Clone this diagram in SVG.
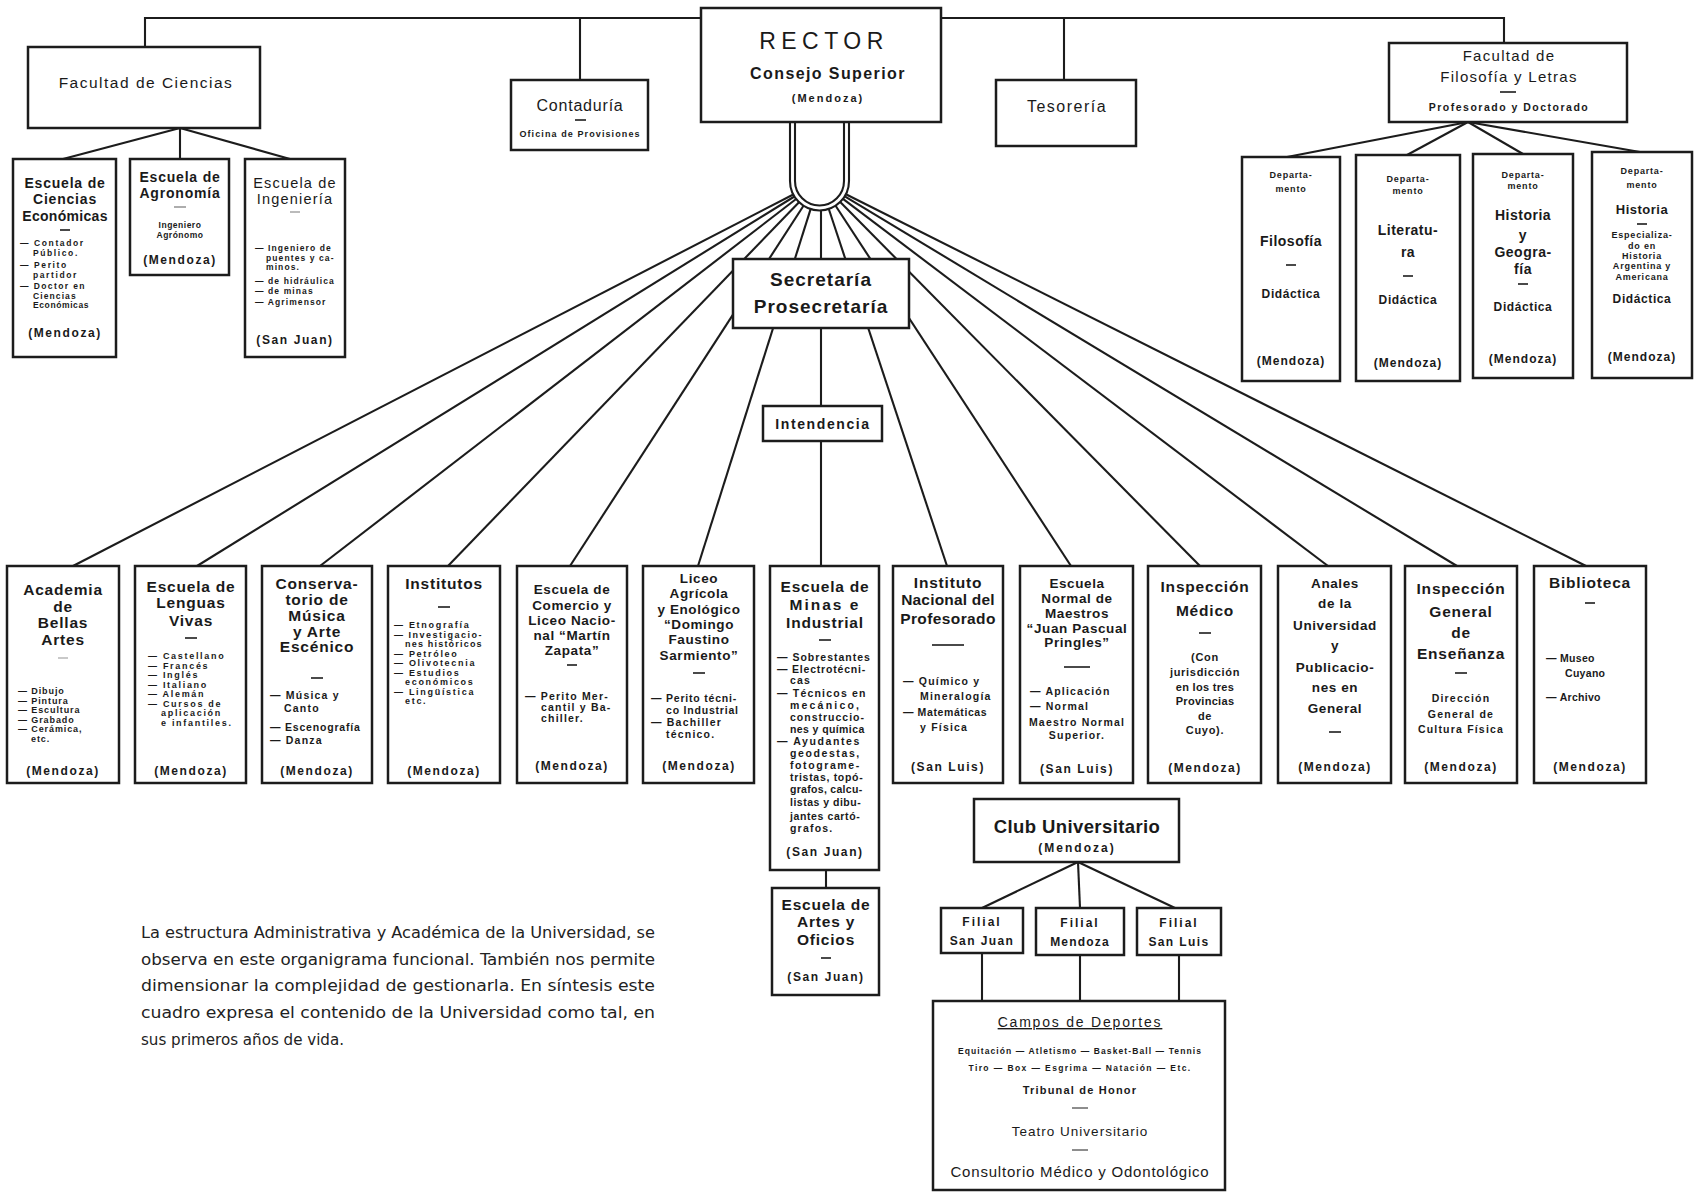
<svg xmlns="http://www.w3.org/2000/svg" width="1696" height="1192" viewBox="0 0 1696 1192">
<style>
.bx{fill:#fff;stroke:#1c1c1c;stroke-width:2.5}
.cn{stroke:#1c1c1c;stroke-width:2.1;fill:none}
.ds{stroke:#1c1c1c;stroke-width:1.6}
text{font-family:"Liberation Sans",Arial,sans-serif;fill:#1a1a1a}
.ti{font-size:15.5px;font-weight:bold;text-anchor:middle;letter-spacing:0.8px}
.ts{font-size:13.5px;font-weight:bold;text-anchor:middle;letter-spacing:0.6px}
.it{font-size:10.5px;font-weight:bold;letter-spacing:1.2px}
.ix{font-size:9px;font-weight:bold;letter-spacing:1.7px}
.ic{font-size:10.5px;font-weight:bold;letter-spacing:1.2px;text-anchor:middle}
.md{font-size:12px;font-weight:bold;text-anchor:middle;letter-spacing:1.6px}
.tt{font-size:15.5px;text-anchor:middle;letter-spacing:1.5px}
.dp{font-size:9px;font-weight:bold;text-anchor:middle;letter-spacing:0.8px}
.dt{font-size:14px;font-weight:bold;text-anchor:middle;letter-spacing:0.5px}
.dd{font-size:12px;font-weight:bold;text-anchor:middle;letter-spacing:0.6px}
.par{font-family:"Liberation Sans Narrow","DejaVu Sans Condensed","Liberation Sans",sans-serif;font-size:16px;fill:#222}
</style>
<rect x="0" y="0" width="1696" height="1192" fill="#fff"/>

<g id="connectors">
  <polyline class="cn" points="145,47 145,18 1504,18 1504,43"/>
  <line class="cn" x1="580" y1="18" x2="580" y2="80"/>
  <line class="cn" x1="1064" y1="18" x2="1064" y2="80"/>
  <line class="cn" x1="180" y1="128" x2="63" y2="159"/>
  <line class="cn" x1="180" y1="128" x2="180" y2="159"/>
  <line class="cn" x1="180" y1="128" x2="290" y2="159"/>
  <line class="cn" x1="1468" y1="122" x2="1287" y2="157"/>
  <line class="cn" x1="1468" y1="122" x2="1407" y2="155"/>
  <line class="cn" x1="1468" y1="122" x2="1523" y2="154"/>
  <line class="cn" x1="1468" y1="122" x2="1640" y2="152"/>
  <line class="cn" x1="793.3" y1="194.5" x2="73" y2="566"/>
  <line class="cn" x1="794.4" y1="196.5" x2="197" y2="566"/>
  <line class="cn" x1="796.1" y1="199" x2="320" y2="566"/>
  <line class="cn" x1="799" y1="202.2" x2="448" y2="566"/>
  <line class="cn" x1="803.5" y1="205.8" x2="570" y2="566"/>
  <line class="cn" x1="810.6" y1="209.1" x2="698" y2="566"/>
  <line class="cn" x1="821" y1="210" x2="821" y2="566"/>
  <line class="cn" x1="828.8" y1="209" x2="947" y2="566"/>
  <line class="cn" x1="835.6" y1="205.7" x2="1071" y2="566"/>
  <line class="cn" x1="840.2" y1="202" x2="1200" y2="566"/>
  <line class="cn" x1="843" y1="198.8" x2="1328" y2="566"/>
  <line class="cn" x1="844.8" y1="196.3" x2="1457" y2="566"/>
  <line class="cn" x1="845.9" y1="194.2" x2="1586" y2="566"/>
  <path class="cn" d="M790 122 V181 A29.5 29.5 0 0 0 849 181 V122" fill="#fff"/>
  <path class="cn" d="M795 122 V181 A24.5 24.5 0 0 0 844 181 V122"/>
  <line class="cn" x1="826" y1="870" x2="826" y2="888"/>
  <line class="cn" x1="1078" y1="862" x2="982" y2="908"/>
  <line class="cn" x1="1078" y1="862" x2="1080" y2="908"/>
  <line class="cn" x1="1078" y1="862" x2="1175" y2="908"/>
  <line class="cn" x1="982" y1="953" x2="982" y2="1001"/>
  <line class="cn" x1="1080" y1="955" x2="1080" y2="1001"/>
  <line class="cn" x1="1179" y1="955" x2="1179" y2="1001"/>
</g>

<g id="rector">
  <rect class="bx" x="701" y="8" width="240" height="114"/>
  <text x="824" y="49" style="font-size:23px;letter-spacing:5.5px;text-anchor:middle">RECTOR</text>
  <text x="828" y="79" style="font-size:16px;font-weight:bold;letter-spacing:1.4px;text-anchor:middle">Consejo Superior</text>
  <text class="md" x="828" y="102" style="font-size:11px;letter-spacing:2px">(Mendoza)</text>
</g>

<g id="fac-ciencias">
  <rect class="bx" x="28" y="47" width="232" height="81"/>
  <text class="tt" x="146" y="88">Facultad de Ciencias</text>
</g>

<g id="contaduria">
  <rect class="bx" x="511" y="80" width="137" height="70"/>
  <text class="tt" x="580" y="111" style="font-size:16px;letter-spacing:0.8px">Contaduría</text>
  <line class="ds" x1="575" y1="120" x2="586" y2="120"/>
  <text x="580" y="137" style="font-size:9px;font-weight:bold;letter-spacing:1.1px;text-anchor:middle">Oficina de Provisiones</text>
</g>

<g id="tesoreria">
  <rect class="bx" x="996" y="80" width="140" height="66"/>
  <text class="tt" x="1067" y="112" style="font-size:16px">Tesorería</text>
</g>

<g id="fac-filosofia">
  <rect class="bx" x="1389" y="43" width="238" height="79"/>
  <text class="tt" x="1509" y="61" style="font-size:15px;letter-spacing:1.3px">Facultad de</text>
  <text class="tt" x="1509" y="82" style="font-size:15px;letter-spacing:1.3px">Filosofía y Letras</text>
  <line class="ds" x1="1500" y1="92" x2="1516" y2="92"/>
  <text x="1509" y="111" style="font-size:10.5px;font-weight:bold;letter-spacing:1.5px;text-anchor:middle">Profesorado y Doctorado</text>
</g>

<g id="esc-ciencias-economicas">
  <rect class="bx" x="13" y="159" width="103" height="198"/>
  <text class="ti" x="65" y="188" style="font-size:14px">Escuela de</text>
  <text class="ti" x="65" y="204" style="font-size:14px">Ciencias</text>
  <text class="ti" x="65" y="221" style="font-size:14px;letter-spacing:0.3px">Económicas</text>
  <line class="ds" x1="60" y1="230" x2="70" y2="230"/>
  <text class="ix" x="20" y="246" style="font-size:8.5px;letter-spacing:1.6px">— Contador</text>
  <text class="ix" x="33" y="255.5" style="font-size:8.5px;letter-spacing:1.6px">Público.</text>
  <text class="ix" x="20" y="268" style="font-size:8.5px;letter-spacing:1.6px">— Perito</text>
  <text class="ix" x="33" y="277.5" style="font-size:8.5px;letter-spacing:1.6px">partidor</text>
  <text class="ix" x="20" y="289" style="font-size:8.5px;letter-spacing:1.4px">— Doctor en</text>
  <text class="ix" x="33" y="298.5" style="font-size:8.5px;letter-spacing:1.1px">Ciencias</text>
  <text class="ix" x="33" y="308" style="font-size:8.5px;letter-spacing:0.6px">Económicas</text>
  <text class="md" x="65" y="337">(Mendoza)</text>
</g>

<g id="esc-agronomia">
  <rect class="bx" x="130" y="159" width="99" height="116"/>
  <text class="ti" x="180" y="182" style="font-size:14px">Escuela de</text>
  <text class="ti" x="180" y="198" style="font-size:14px">Agronomía</text>
  <line class="ds" x1="174" y1="207" x2="186" y2="207" style="stroke:#999"/>
  <text x="180" y="228" style="font-size:8.5px;font-weight:bold;letter-spacing:0.5px;text-anchor:middle">Ingeniero</text>
  <text x="180" y="238" style="font-size:8.5px;font-weight:bold;letter-spacing:0.5px;text-anchor:middle">Agrónomo</text>
  <text class="md" x="180" y="264">(Mendoza)</text>
</g>

<g id="esc-ingenieria">
  <rect class="bx" x="245" y="159" width="100" height="198"/>
  <text class="ti" x="295" y="188" style="font-size:14.5px;font-weight:normal;letter-spacing:1.2px">Escuela de</text>
  <text class="ti" x="295" y="204" style="font-size:14.5px;font-weight:normal;letter-spacing:1.2px">Ingeniería</text>
  <line class="ds" x1="290" y1="212" x2="300" y2="212" style="stroke:#aaa"/>
  <text class="it" x="255" y="251" style="font-size:8.5px;letter-spacing:1.1px">— Ingeniero de</text>
  <text class="it" x="266" y="260.5" style="font-size:8.5px;letter-spacing:1.1px">puentes y ca-</text>
  <text class="it" x="266" y="270" style="font-size:8.5px;letter-spacing:1.1px">minos.</text>
  <text class="it" x="255" y="284" style="font-size:8.5px;letter-spacing:1.1px">— de hidráulica</text>
  <text class="it" x="255" y="294" style="font-size:8.5px;letter-spacing:1.1px">— de minas</text>
  <text class="it" x="255" y="304.5" style="font-size:8.5px;letter-spacing:1.1px">— Agrimensor</text>
  <text class="md" x="295" y="344">(San Juan)</text>
</g>

<g id="dep-filosofia">
  <rect class="bx" x="1242" y="157" width="98" height="224"/>
  <text class="dp" x="1291" y="178">Departa-</text>
  <text class="dp" x="1291" y="192">mento</text>
  <text class="dt" x="1291" y="246">Filosofía</text>
  <line class="ds" x1="1286" y1="265" x2="1296" y2="265"/>
  <text class="dd" x="1291" y="298">Didáctica</text>
  <text class="md" x="1291" y="365" style="letter-spacing:1px">(Mendoza)</text>
</g>

<g id="dep-literatura">
  <rect class="bx" x="1356" y="155" width="104" height="226"/>
  <text class="dp" x="1408" y="182">Departa-</text>
  <text class="dp" x="1408" y="194">mento</text>
  <text class="dt" x="1408" y="235">Literatu-</text>
  <text class="dt" x="1408" y="257">ra</text>
  <line class="ds" x1="1403" y1="276" x2="1413" y2="276"/>
  <text class="dd" x="1408" y="304">Didáctica</text>
  <text class="md" x="1408" y="367" style="letter-spacing:1px">(Mendoza)</text>
</g>

<g id="dep-historia-geografia">
  <rect class="bx" x="1473" y="154" width="100" height="224"/>
  <text class="dp" x="1523" y="178">Departa-</text>
  <text class="dp" x="1523" y="189">mento</text>
  <text class="dt" x="1523" y="220">Historia</text>
  <text class="dt" x="1523" y="240">y</text>
  <text class="dt" x="1523" y="257">Geogra-</text>
  <text class="dt" x="1523" y="274">fía</text>
  <line class="ds" x1="1518" y1="284" x2="1528" y2="284"/>
  <text class="dd" x="1523" y="311">Didáctica</text>
  <text class="md" x="1523" y="363" style="letter-spacing:1px">(Mendoza)</text>
</g>

<g id="dep-historia">
  <rect class="bx" x="1592" y="152" width="100" height="226"/>
  <text class="dp" x="1642" y="174">Departa-</text>
  <text class="dp" x="1642" y="188">mento</text>
  <text class="dt" x="1642" y="214" style="font-size:13px">Historia</text>
  <line class="ds" x1="1637" y1="224" x2="1647" y2="224"/>
  <text class="dp" x="1642" y="238">Especializa-</text>
  <text class="dp" x="1642" y="249">do en</text>
  <text class="dp" x="1642" y="259">Historia</text>
  <text class="dp" x="1642" y="269">Argentina y</text>
  <text class="dp" x="1642" y="280">Americana</text>
  <text class="dd" x="1642" y="303">Didáctica</text>
  <text class="md" x="1642" y="361" style="letter-spacing:1px">(Mendoza)</text>
</g>

<g id="secretaria">
  <rect class="bx" x="733" y="259" width="176" height="69"/>
  <text x="821" y="286" style="font-size:19px;font-weight:bold;letter-spacing:1px;text-anchor:middle">Secretaría</text>
  <text x="821" y="313" style="font-size:19px;font-weight:bold;letter-spacing:1px;text-anchor:middle">Prosecretaría</text>
</g>

<g id="intendencia">
  <rect class="bx" x="763" y="406" width="119" height="35"/>
  <text x="823" y="429" style="font-size:14px;font-weight:bold;letter-spacing:1.6px;text-anchor:middle">Intendencia</text>
</g>

<g id="academia-bellas-artes">
  <rect class="bx" x="7" y="566" width="112" height="217"/>
  <text class="ti" x="63" y="595">Academia</text>
  <text class="ti" x="63" y="612">de</text>
  <text class="ti" x="63" y="628">Bellas</text>
  <text class="ti" x="63" y="645">Artes</text>
  <line class="ds" x1="58" y1="658" x2="68" y2="658" style="stroke:#bbb"/>
  <text class="ix" x="18" y="694" style="letter-spacing:0.9px">— Dibujo</text>
  <text class="ix" x="18" y="703.5" style="letter-spacing:0.9px">— Pintura</text>
  <text class="ix" x="18" y="713" style="letter-spacing:0.9px">— Escultura</text>
  <text class="ix" x="18" y="722.5" style="letter-spacing:0.9px">— Grabado</text>
  <text class="ix" x="18" y="732" style="letter-spacing:0.9px">— Cerámica,</text>
  <text class="ix" x="31" y="741.5" style="letter-spacing:0.9px">etc.</text>
  <text class="md" x="63" y="775">(Mendoza)</text>
</g>

<g id="lenguas-vivas">
  <rect class="bx" x="135" y="566" width="111" height="217"/>
  <text class="ti" x="191" y="592">Escuela de</text>
  <text class="ti" x="191" y="608">Lenguas</text>
  <text class="ti" x="191" y="626">Vivas</text>
  <line class="ds" x1="185" y1="638" x2="197" y2="638"/>
  <text class="ix" x="148" y="659">— Castellano</text>
  <text class="ix" x="148" y="668.5">— Francés</text>
  <text class="ix" x="148" y="678">— Inglés</text>
  <text class="ix" x="148" y="687.5">— Italiano</text>
  <text class="ix" x="148" y="697">— Alemán</text>
  <text class="ix" x="148" y="706.5">— Cursos de</text>
  <text class="ix" x="161" y="716">aplicación</text>
  <text class="ix" x="161" y="725.5">e infantiles.</text>
  <text class="md" x="191" y="775">(Mendoza)</text>
</g>

<g id="conservatorio">
  <rect class="bx" x="262" y="566" width="110" height="217"/>
  <text class="ti" x="317" y="589">Conserva-</text>
  <text class="ti" x="317" y="605">torio de</text>
  <text class="ti" x="317" y="621">Música</text>
  <text class="ti" x="317" y="637">y Arte</text>
  <text class="ti" x="317" y="652">Escénico</text>
  <line class="ds" x1="311" y1="678" x2="323" y2="678"/>
  <text class="it" x="270" y="699">— Música y</text>
  <text class="it" x="284" y="712">Canto</text>
  <text class="it" x="270" y="731" style="letter-spacing:0.8px">— Escenografía</text>
  <text class="it" x="270" y="744">— Danza</text>
  <text class="md" x="317" y="775">(Mendoza)</text>
</g>

<g id="institutos">
  <rect class="bx" x="388" y="566" width="112" height="217"/>
  <text class="ti" x="444" y="589">Institutos</text>
  <line class="ds" x1="438" y1="607" x2="450" y2="607"/>
  <text class="ix" x="394" y="628">— Etnografía</text>
  <text class="ix" x="394" y="637.5" style="letter-spacing:1.5px">— Investigacio-</text>
  <text class="ix" x="405" y="647" style="letter-spacing:1.2px">nes históricos</text>
  <text class="ix" x="394" y="656.5">— Petróleo</text>
  <text class="ix" x="394" y="666">— Olivotecnia</text>
  <text class="ix" x="394" y="675.5">— Estudios</text>
  <text class="ix" x="405" y="685">económicos</text>
  <text class="ix" x="394" y="694.5">— Lingüística</text>
  <text class="ix" x="405" y="704">etc.</text>
  <text class="md" x="444" y="775">(Mendoza)</text>
</g>

<g id="escuela-comercio">
  <rect class="bx" x="517" y="566" width="110" height="217"/>
  <text class="ts" x="572" y="594">Escuela de</text>
  <text class="ts" x="572" y="610">Comercio y</text>
  <text class="ts" x="572" y="625">Liceo Nacio-</text>
  <text class="ts" x="572" y="640">nal “Martín</text>
  <text class="ts" x="572" y="655">Zapata”</text>
  <line class="ds" x1="567" y1="665" x2="577" y2="665"/>
  <text class="it" x="525" y="700">— Perito Mer-</text>
  <text class="it" x="541" y="711">cantil y Ba-</text>
  <text class="it" x="541" y="722">chiller.</text>
  <text class="md" x="572" y="770">(Mendoza)</text>
</g>

<g id="liceo-agricola">
  <rect class="bx" x="643" y="566" width="111" height="217"/>
  <text class="ts" x="699" y="583">Liceo</text>
  <text class="ts" x="699" y="598">Agrícola</text>
  <text class="ts" x="699" y="614">y Enológico</text>
  <text class="ts" x="699" y="629">“Domingo</text>
  <text class="ts" x="699" y="644">Faustino</text>
  <text class="ts" x="699" y="660">Sarmiento”</text>
  <line class="ds" x1="693" y1="673" x2="705" y2="673"/>
  <text class="it" x="651" y="702" style="letter-spacing:0.8px">— Perito técni-</text>
  <text class="it" x="666" y="714" style="letter-spacing:0.8px">co Industrial</text>
  <text class="it" x="651" y="726">— Bachiller</text>
  <text class="it" x="666" y="738">técnico.</text>
  <text class="md" x="699" y="770">(Mendoza)</text>
</g>

<g id="escuela-minas">
  <rect class="bx" x="770" y="566" width="109" height="304"/>
  <text class="ti" x="825" y="592">Escuela de</text>
  <text class="ti" x="825" y="610" style="letter-spacing:2px">Minas e</text>
  <text class="ti" x="825" y="628">Industrial</text>
  <line class="ds" x1="819" y1="640" x2="831" y2="640"/>
  <text class="it" x="777" y="661" style="letter-spacing:1px">— Sobrestantes</text>
  <text class="it" x="777" y="672.5" style="letter-spacing:0.8px">— Electrotécni-</text>
  <text class="it" x="790" y="684">cas</text>
  <text class="it" x="777" y="697">— Técnicos en</text>
  <text class="it" x="790" y="709" style="letter-spacing:2.2px">mecánico,</text>
  <text class="it" x="790" y="721" style="letter-spacing:1px">construccio-</text>
  <text class="it" x="790" y="732.5" style="letter-spacing:0.4px">nes y química</text>
  <text class="it" x="777" y="745" style="letter-spacing:1.6px">— Ayudantes</text>
  <text class="it" x="790" y="757" style="letter-spacing:1.6px">geodestas,</text>
  <text class="it" x="790" y="768.5" style="letter-spacing:1.6px">fotograme-</text>
  <text class="it" x="790" y="781" style="letter-spacing:0.7px">tristas, topó-</text>
  <text class="it" x="790" y="793" style="letter-spacing:0.3px">grafos, calcu-</text>
  <text class="it" x="790" y="806" style="letter-spacing:0.5px">listas y dibu-</text>
  <text class="it" x="790" y="820" style="letter-spacing:0.6px">jantes cartó-</text>
  <text class="it" x="790" y="832">grafos.</text>
  <text class="md" x="825" y="856">(San Juan)</text>
</g>

<g id="artes-oficios">
  <rect class="bx" x="772" y="888" width="107" height="107"/>
  <text class="ti" x="826" y="910">Escuela de</text>
  <text class="ti" x="826" y="927">Artes y</text>
  <text class="ti" x="826" y="945">Oficios</text>
  <line class="ds" x1="821" y1="958" x2="831" y2="958"/>
  <text class="md" x="826" y="981">(San Juan)</text>
</g>

<g id="instituto-profesorado">
  <rect class="bx" x="893" y="566" width="110" height="217"/>
  <text class="ti" x="948" y="588">Instituto</text>
  <text class="ti" x="948" y="605" style="letter-spacing:0.2px">Nacional del</text>
  <text class="ti" x="948" y="624" style="letter-spacing:0.4px">Profesorado</text>
  <line class="ds" x1="932" y1="645" x2="964" y2="645"/>
  <text class="it" x="903" y="685">— Químico y</text>
  <text class="it" x="920" y="700">Mineralogía</text>
  <text class="it" x="903" y="716" style="letter-spacing:0.6px">— Matemáticas</text>
  <text class="it" x="920" y="731">y Física</text>
  <text class="md" x="948" y="771">(San Luis)</text>
</g>

<g id="escuela-normal">
  <rect class="bx" x="1020" y="566" width="113" height="217"/>
  <text class="ts" x="1077" y="588">Escuela</text>
  <text class="ts" x="1077" y="603">Normal de</text>
  <text class="ts" x="1077" y="618">Maestros</text>
  <text class="ts" x="1077" y="633">“Juan Pascual</text>
  <text class="ts" x="1077" y="647">Pringles”</text>
  <line class="ds" x1="1064" y1="667" x2="1090" y2="667"/>
  <text class="it" x="1030" y="695">— Aplicación</text>
  <text class="it" x="1030" y="710">— Normal</text>
  <text class="ic" x="1077" y="726">Maestro Normal</text>
  <text class="ic" x="1077" y="739">Superior.</text>
  <text class="md" x="1077" y="773">(San Luis)</text>
</g>

<g id="inspeccion-medico">
  <rect class="bx" x="1148" y="566" width="113" height="217"/>
  <text class="ti" x="1205" y="592">Inspección</text>
  <text class="ti" x="1205" y="616">Médico</text>
  <line class="ds" x1="1199" y1="633" x2="1211" y2="633"/>
  <text class="ic" x="1205" y="661" style="font-size:11px;letter-spacing:0.7px">(Con</text>
  <text class="ic" x="1205" y="676" style="font-size:11px;letter-spacing:0.7px">jurisdicción</text>
  <text class="ic" x="1205" y="691" style="font-size:11px;letter-spacing:0.3px">en los tres</text>
  <text class="ic" x="1205" y="705" style="font-size:11px;letter-spacing:0.3px">Provincias</text>
  <text class="ic" x="1205" y="720" style="font-size:11px;letter-spacing:0.7px">de</text>
  <text class="ic" x="1205" y="734" style="font-size:11px;letter-spacing:0.7px">Cuyo).</text>
  <text class="md" x="1205" y="772">(Mendoza)</text>
</g>

<g id="anales">
  <rect class="bx" x="1278" y="566" width="113" height="217"/>
  <text class="ti" x="1335" y="588" style="font-size:13.5px;letter-spacing:0.6px">Anales</text>
  <text class="ti" x="1335" y="608" style="font-size:13.5px;letter-spacing:0.6px">de la</text>
  <text class="ti" x="1335" y="630" style="font-size:13.5px;letter-spacing:0.6px">Universidad</text>
  <text class="ti" x="1335" y="650" style="font-size:13.5px;letter-spacing:0.6px">y</text>
  <text class="ti" x="1335" y="672" style="font-size:13.5px;letter-spacing:0.6px">Publicacio-</text>
  <text class="ti" x="1335" y="692" style="font-size:13.5px;letter-spacing:0.6px">nes en</text>
  <text class="ti" x="1335" y="713" style="font-size:13.5px;letter-spacing:0.6px">General</text>
  <line class="ds" x1="1329" y1="732" x2="1341" y2="732"/>
  <text class="md" x="1335" y="771">(Mendoza)</text>
</g>

<g id="inspeccion-general">
  <rect class="bx" x="1405" y="566" width="112" height="217"/>
  <text class="ti" x="1461" y="594">Inspección</text>
  <text class="ti" x="1461" y="617">General</text>
  <text class="ti" x="1461" y="638">de</text>
  <text class="ti" x="1461" y="659">Enseñanza</text>
  <line class="ds" x1="1455" y1="673" x2="1467" y2="673"/>
  <text class="ic" x="1461" y="702">Dirección</text>
  <text class="ic" x="1461" y="718">General de</text>
  <text class="ic" x="1461" y="733">Cultura Física</text>
  <text class="md" x="1461" y="771">(Mendoza)</text>
</g>

<g id="biblioteca">
  <rect class="bx" x="1534" y="566" width="112" height="217"/>
  <text class="ti" x="1590" y="588">Biblioteca</text>
  <line class="ds" x1="1585" y1="603" x2="1595" y2="603"/>
  <text class="it" x="1546" y="662" style="letter-spacing:0.3px">— Museo</text>
  <text class="it" x="1565" y="677" style="letter-spacing:0.3px">Cuyano</text>
  <text class="it" x="1546" y="701" style="letter-spacing:0.3px">— Archivo</text>
  <text class="md" x="1590" y="771">(Mendoza)</text>
</g>

<g id="club-universitario">
  <rect class="bx" x="974" y="799" width="205" height="63"/>
  <text x="1077" y="833" style="font-size:18.5px;font-weight:bold;letter-spacing:0.4px;text-anchor:middle">Club Universitario</text>
  <text class="md" x="1077" y="852" style="letter-spacing:2px">(Mendoza)</text>
</g>

<g id="filial-san-juan">
  <rect class="bx" x="941" y="908" width="82" height="45"/>
  <text x="982" y="926" style="font-size:12px;font-weight:bold;text-anchor:middle;letter-spacing:2px">Filial</text>
  <text x="982" y="945" style="font-size:12px;font-weight:bold;text-anchor:middle;letter-spacing:1.4px">San Juan</text>
</g>

<g id="filial-mendoza">
  <rect class="bx" x="1036" y="908" width="88" height="47"/>
  <text x="1080" y="927" style="font-size:12px;font-weight:bold;text-anchor:middle;letter-spacing:2px">Filial</text>
  <text x="1080" y="946" style="font-size:12px;font-weight:bold;text-anchor:middle;letter-spacing:1.2px">Mendoza</text>
</g>

<g id="filial-san-luis">
  <rect class="bx" x="1137" y="908" width="84" height="47"/>
  <text x="1179" y="927" style="font-size:12px;font-weight:bold;text-anchor:middle;letter-spacing:2px">Filial</text>
  <text x="1179" y="946" style="font-size:12px;font-weight:bold;text-anchor:middle;letter-spacing:1.4px">San Luis</text>
</g>

<g id="campos-deportes">
  <rect class="bx" x="933" y="1001" width="292" height="189"/>
  <text x="1080" y="1027" style="font-size:14px;text-anchor:middle;letter-spacing:1.8px;text-decoration:underline">Campos de Deportes</text>
  <text x="1080" y="1054" style="font-size:8.5px;font-weight:bold;text-anchor:middle;letter-spacing:1.1px">Equitación — Atletismo — Basket-Ball — Tennis</text>
  <text x="1080" y="1071" style="font-size:8.5px;font-weight:bold;text-anchor:middle;letter-spacing:1.4px">Tiro — Box — Esgrima — Natación — Etc.</text>
  <text x="1080" y="1094" style="font-size:11px;font-weight:bold;text-anchor:middle;letter-spacing:1.2px">Tribunal de Honor</text>
  <line class="ds" x1="1072" y1="1108" x2="1088" y2="1108" style="stroke-width:1"/>
  <text x="1080" y="1136" style="font-size:13.5px;text-anchor:middle;letter-spacing:1px">Teatro Universitario</text>
  <line class="ds" x1="1072" y1="1150" x2="1088" y2="1150" style="stroke-width:1"/>
  <text x="1080" y="1177" style="font-size:15px;text-anchor:middle;letter-spacing:0.8px">Consultorio Médico y Odontológico</text>
</g>

<g id="texto">
  <text class="par" x="141" y="938" textLength="514" lengthAdjust="spacingAndGlyphs">La estructura Administrativa y Académica de la Universidad, se</text>
  <text class="par" x="141" y="965" textLength="514" lengthAdjust="spacingAndGlyphs">observa en este organigrama funcional. También nos permite</text>
  <text class="par" x="141" y="991" textLength="514" lengthAdjust="spacingAndGlyphs">dimensionar la complejidad de gestionarla. En síntesis este</text>
  <text class="par" x="141" y="1018" textLength="514" lengthAdjust="spacingAndGlyphs">cuadro expresa el contenido de la Universidad como tal, en</text>
  <text class="par" x="141" y="1045" textLength="203" lengthAdjust="spacingAndGlyphs">sus primeros años de vida.</text>
</g>
</svg>
